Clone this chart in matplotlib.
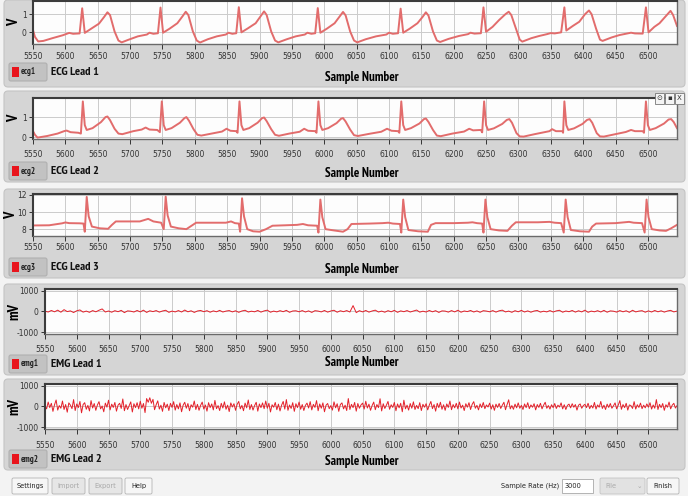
import os
import matplotlib
matplotlib.use("Agg")
import matplotlib.pyplot as plt
from matplotlib import font_manager
from matplotlib.font_manager import FontProperties
from matplotlib.patches import FancyBboxPatch, Rectangle

# ---- values (sample number, amplitude) ----
ecg1_x = [5550, 5553, 5558, 5566, 5580, 5596, 5606, 5612, 5622,
          5626, 5630, 5640, 5652, 5660, 5665, 5669, 5676, 5682, 5687, 5698, 5712, 5726, 5730, 5736, 5743,
          5747, 5751, 5761, 5773, 5781, 5786, 5790, 5797, 5803, 5808, 5820, 5834, 5848, 5852, 5858, 5864,
          5868, 5872, 5882, 5894, 5902, 5907, 5911, 5918, 5924, 5929, 5942, 5956, 5970, 5974, 5980, 5986,
          5990, 5994, 6004, 6016, 6024, 6029, 6033, 6040, 6046, 6051, 6064, 6080, 6096, 6100, 6106, 6114,
          6118, 6122, 6132, 6144, 6152, 6157, 6161, 6168, 6174, 6179, 6192, 6208, 6222, 6226, 6232, 6242,
          6246, 6250, 6260, 6270, 6280, 6285, 6289, 6296, 6302, 6306, 6320, 6332, 6344, 6350, 6356, 6366,
          6371, 6374, 6384, 6394, 6403, 6409, 6413, 6420, 6426, 6430, 6444, 6456, 6468, 6474, 6480, 6492,
          6497, 6501, 6510, 6518, 6528, 6535, 6539, 6545]
ecg1_y = [0.12, -0.25, -0.5, -0.47, -0.32, -0.16, -0.03, -0.08, -0.06,
          1.32, -0.03, 0.2, 0.48, 0.85, 1.1, 0.95, 0.05, -0.45, -0.55, -0.4, -0.22, -0.12, -0.02, -0.08, -0.05,
          1.36, -0.02, 0.2, 0.5, 0.88, 1.13, 0.95, 0.05, -0.45, -0.56, -0.38, -0.22, -0.12, -0.02, -0.08, -0.05,
          1.38, 0.0, 0.22, 0.5, 0.9, 1.15, 0.95, 0.05, -0.45, -0.55, -0.38, -0.22, -0.12, -0.02, -0.08, -0.05,
          1.33, -0.02, 0.2, 0.5, 0.88, 1.12, 0.93, 0.05, -0.45, -0.55, -0.38, -0.22, -0.12, -0.02, -0.08, -0.05,
          1.3, -0.02, 0.2, 0.5, 0.85, 1.1, 0.92, 0.05, -0.45, -0.53, -0.36, -0.2, -0.1, -0.02, -0.07, -0.05,
          1.37, 0.03, 0.3, 0.67, 1.0, 1.13, 0.95, 0.22, -0.4, -0.51, -0.32, -0.2, -0.1, -0.04, -0.06, 0.0,
          1.37, 0.1, 0.35, 0.58, 1.0, 1.2, 1.0, 0.2, -0.4, -0.47, -0.28, -0.15, -0.06, -0.02, -0.06, -0.07,
          1.37, 0.0, 0.3, 0.5, 0.9, 1.18, 0.95, 0.35]

ecg2_x = [5550, 5553, 5557, 5572, 5588, 5598, 5602, 5608, 5620, 5624,
          5627, 5630, 5633, 5642, 5655, 5662, 5665, 5669, 5676, 5682, 5688, 5705, 5718, 5724, 5730, 5742, 5746,
          5749, 5752, 5755, 5764, 5777, 5784, 5787, 5791, 5798, 5804, 5810, 5826, 5842, 5849, 5855, 5864, 5866,
          5869, 5872, 5875, 5884, 5897, 5904, 5907, 5911, 5918, 5924, 5930, 5946, 5962, 5969, 5975, 5986, 5988,
          5991, 5994, 5997, 6006, 6019, 6026, 6029, 6033, 6040, 6046, 6052, 6070, 6088, 6097, 6104, 6114, 6116,
          6119, 6122, 6125, 6134, 6147, 6154, 6157, 6161, 6168, 6174, 6180, 6198, 6216, 6224, 6230, 6242, 6244,
          6247, 6250, 6253, 6262, 6275, 6282, 6286, 6290, 6297, 6302, 6308, 6325, 6340, 6348, 6352, 6358, 6368, 6369,
          6371, 6374, 6377, 6386, 6399, 6406, 6410, 6414, 6421, 6426, 6432, 6450, 6466, 6474, 6480, 6492, 6494,
          6497, 6500, 6503, 6512, 6525, 6532, 6536, 6540, 6545]
ecg2_y = [0.3, 0.12, -0.02, 0.06, 0.18, 0.3, 0.33, 0.25, 0.22, 0.18,
          1.78, 0.6, 0.36, 0.45, 0.75, 1.0, 1.03, 0.85, 0.42, 0.18, 0.15, 0.3, 0.38, 0.48, 0.38, 0.36, 0.25,
          1.78, 0.6, 0.36, 0.45, 0.72, 0.95, 1.0, 0.82, 0.4, 0.12, 0.08, 0.18, 0.28, 0.42, 0.32, 0.3, 0.22,
          1.78, 0.6, 0.36, 0.45, 0.72, 0.95, 0.98, 0.8, 0.4, 0.12, 0.07, 0.18, 0.27, 0.42, 0.32, 0.3, 0.22,
          1.78, 0.6, 0.36, 0.45, 0.7, 0.92, 0.95, 0.78, 0.38, 0.1, 0.06, 0.17, 0.27, 0.42, 0.32, 0.3, 0.22,
          1.78, 0.6, 0.36, 0.45, 0.68, 0.9, 0.93, 0.76, 0.36, 0.08, 0.05, 0.18, 0.28, 0.42, 0.34, 0.36, 0.24,
          1.78, 0.6, 0.36, 0.44, 0.66, 0.86, 0.9, 0.72, 0.2, 0.04, 0.03, 0.15, 0.25, 0.3, 0.4, 0.3, 0.3, 0.22,
          1.78, 0.6, 0.36, 0.44, 0.66, 0.86, 0.9, 0.72, 0.2, 0.04, 0.03, 0.15, 0.26, 0.36, 0.3, 0.3, 0.22,
          1.78, 0.6, 0.36, 0.45, 0.68, 0.88, 0.9, 0.75, 0.45]

ecg3_x = [5550, 5575, 5595, 5600, 5606, 5622, 5628, 5630,
          5633, 5636, 5641, 5653, 5666, 5672, 5678, 5700, 5715, 5728, 5736, 5748, 5752,
          5755, 5758, 5763, 5775, 5787, 5795, 5802, 5830, 5848, 5856, 5862, 5868, 5870,
          5873, 5876, 5881, 5890, 5900, 5910, 5920, 5940, 5958, 5967, 5975, 5989, 5991,
          5994, 5997, 6002, 6015, 6029, 6036, 6042, 6070, 6090, 6099, 6106, 6117, 6119,
          6122, 6125, 6130, 6145, 6160, 6165, 6172, 6200, 6222, 6229, 6236, 6244, 6246,
          6249, 6252, 6257, 6270, 6283, 6290, 6296, 6330, 6348, 6356, 6366, 6370,
          6373, 6376, 6381, 6395, 6409, 6414, 6420, 6450, 6471, 6478, 6491, 6495,
          6498, 6501, 6506, 6518, 6528, 6536, 6545]
ecg3_y = [8.43, 8.45, 8.68, 8.78, 8.7, 8.68, 8.65, 7.7,
          11.76, 9.5, 8.3, 8.1, 8.04, 8.5, 8.9, 8.9, 8.9, 9.2, 8.9, 8.75, 8.0,
          11.8, 9.6, 8.3, 8.1, 8.0, 8.4, 8.75, 8.75, 8.75, 8.9, 8.7, 8.65, 7.7,
          11.6, 9.5, 8.0, 7.75, 7.7, 8.0, 8.4, 8.45, 8.5, 8.6, 8.45, 8.4, 7.6,
          11.45, 9.4, 8.0, 7.85, 7.7, 8.0, 8.6, 8.65, 8.7, 8.75, 8.65, 8.6, 7.6,
          11.45, 9.4, 7.9, 7.75, 7.7, 8.5, 8.7, 8.7, 8.75, 8.8, 8.7, 8.65, 7.6,
          11.45, 9.4, 8.0, 7.85, 7.8, 8.4, 8.8, 8.8, 8.85, 8.75, 8.7, 7.6,
          11.45, 9.4, 7.9, 7.75, 7.7, 8.3, 8.65, 8.7, 8.85, 8.75, 8.7, 7.6,
          11.45, 9.4, 8.0, 7.85, 7.8, 8.1, 8.5]

# EMG lead 1: one reading every 5 samples
emg1_x = list(range(5550, 6550, 5))
emg1_y = [10, -30, 45, -20, 60, -40, 85, -10, 25, -55, 30, 70, -35, 15, -45, 40, -20, 55, 120, -30,
          20, -40, 35, -15, 50, -60, 25, 10, -30, 45, -25, 60, -50, 30, -10, 40, -35, 20, 55, -45,
          15, -25, 40, -30, 65, -20, 30, -50, 20, 45, -15, 35, -40, 25, -20, 50, -30, 15, 40, -25,
          30, -45, 20, 55, -30, 10, -20, 45, -35, 25, 60, -40, 15, -25, 35, -15, 50, -45, 20, 30,
          -20, 40, -30, 25, -50, 35, 15, -25, 45, -35, 20, 55, -40, 30, -15, 40, -30, 280, -60, 35,
          -25, 45, -35, 20, 60, -30, 15, -40, 35, -20, 50, -45, 25, -15, 40, -30, 20, 65, -35, 10,
          -30, 45, -20, 35, -50, 25, 15, -35, 40, -25, 55, -40, 20, -10, 45, -30, 25, -45, 35, 15,
          -20, 40, -35, 30, 60, -25, 15, -45, 35, -20, 50, -30, 25, -40, 20, 45, -35, 10, -25, 40,
          -30, 25, 55, -40, 20, -15, 45, -35, 30, -25, 60, -45, 15, -20, 35, -30, 50, -40, 25, 10,
          -35, 40, -20, 30, -45, 55, -25, 15, 35, -40, 25, -30, 45, -20, 30, -35, 20, 50, -25, 15]

# EMG lead 2: one reading every 2.5 samples
emg2_x = [5550 + 2.5 * i for i in range(400)]
emg2_y = [30, -120, 210, -60, 150, -240, 80, 310, -180, 40, -90, 260, -150, 90, -280, 170, 60, -110, 330, -200,
          120, -60, 240, -310, 90, 180, -140, 50, -220, 280, -80, 140, -190, 70, 230, -120, 20, -260, 160, -40,
          300, -170, 110, -50, 190, -230, 60, 150, -100, 360, -210, 90, -150, 40, 220, -270, 130, -60, 180, -120,
          250, -90, 140, -300, 380, 200, 420, 150, 340, -160, 80, 270, -130, 60, -240, 190, -70, 110, -200, 150,
          -50, 230, -180, 90, -120, 170, -260, 60, 200, -90, 140, -210, 80, -40, 260, -150, 100, -190, 50, 210,
          -130, 70, -230, 180, -60, 120, -170, 290, -110, 40, -200, 150, -80, 220, -140, 60, -250, 170, -30, 130,
          -190, 100, 240, -120, 50, -210, 160, -70, 310, -150, 90, -180, 40, 200, -230, 120, -60, 170, -110, 260,
          -90, 150, -270, 80, -40, 190, -160, 110, -220, 60, 240, -130, 330, -190, 70, -100, 180, -240, 130, -60,
          210, -140, 90, -200, 50, 160, -80, 230, -170, 100, -50, 280, -210, 120, -90, 170, -260, 60, 140, -110,
          40, -180, 220, -70, 130, -240, 90, 170, -120, 60, -200, 380, -150, 100, -60, 190, -230, 140, -90, 70,
          160, -130, 250, -80, 110, -190, 40, 210, -160, 90, -60, 370, -220, 130, -100, 60, 240, -140, 80, -50,
          190, -210, 120, -70, 150, -260, 300, -120, 60, -180, 140, -90, 220, -150, 50, -110, 180, -200, 100, -40,
          130, -170, 60, 240, -110, 90, -230, 150, -60, 200, -140, 80, -190, 120, -50, 260, -160, 90, -70, 150,
          -120, 210, -80, 60, -200, 130, -40, 180, -150, 100, 230, -90, 50, -170, 120, -60, 190, -110, 70, -30,
          160, -130, 80, -190, 110, -50, 140, -100, 60, 200, -160, 90, 320, -120, 40, -140, 110, -70, 170, -90,
          50, -150, 120, -60, 180, -110, 70, -40, 130, -170, 90, -50, 150, -120, 60, 200, -90, 40, -130, 80,
          -60, 140, -100, 60, -30, 170, -120, 80, -150, 50, 110, -70, 130, -40, 90, -180, 60, 120, -90, 40,
          100, -60, 150, -110, 50, -80, 190, -130, 70, -40, 240, -100, 60, -150, 110, -50, 140, -90, 30, 170,
          -120, 60, 280, -140, 90, -60, 150, -180, 70, 40, -100, 230, -130, 80, -50, 160, -110, 60, -70, 120,
          -40, 180, -130, 70, -90, 330, -150, 100, -60, 140, -190, 80, -40, 210, -120, 60, 150, -80, 40, -60]

x_ticks = list(range(5550, 6501, 50))

# ---- fonts: the screenshot uses a narrow face everywhere ----
W, H = 688, 496
fonts = font_manager.fontManager.ttflist
names = {f.name for f in fonts}
NARROW = "Liberation Sans Narrow" if "Liberation Sans Narrow" in names else "DejaVu Sans"
plt.rcParams["font.family"] = [NARROW, "DejaVu Sans"]

bold_file = None
for f in fonts:
    base = os.path.basename(f.fname).lower()
    if "narrow" in base and "bold" in base and "italic" not in base:
        bold_file = f.fname
        break


def bold(size):
    if bold_file:
        return FontProperties(fname=bold_file, size=size)
    return FontProperties(family=[NARROW, "DejaVu Sans"], weight="bold", size=size)


fig = plt.figure(figsize=(W / 100, H / 100), dpi=100, facecolor="#f3f3f3")


def rbox(x0, y0, x1, y1, fc, ec="none", r=3, lw=0.8, z=0):
    p = FancyBboxPatch((x0 / W, 1 - y1 / H), (x1 - x0) / W, (y1 - y0) / H,
                       boxstyle=f"round,pad=0,rounding_size={r / W}",
                       mutation_aspect=W / H, transform=fig.transFigure,
                       fc=fc, ec=ec, lw=lw, zorder=z)
    fig.add_artist(p)


def txt(x, y, s, **kw):
    kw.setdefault("va", "center")
    fig.text(x / W, 1 - y / H, s, **kw)


panels = [
    dict(key="ecg1", title="ECG Lead 1", unit="V", x=ecg1_x, y=ecg1_y, ylim=(-0.64, 1.72),
         yt=[0, 1], ytl=["0", "1"], box=(0, 87), plot=(1, 44), left=33, pad=2.4, leg=72, xl=77, ux=14),
    dict(key="ecg2", title="ECG Lead 2", unit="V", x=ecg2_x, y=ecg2_y, ylim=(-0.09, 1.95),
         yt=[0, 1], ytl=["0", "1"], box=(91, 182), plot=(98, 139), left=33, pad=4.6, leg=171, xl=173, ux=14),
    dict(key="ecg3", title="ECG Lead 3", unit="V", x=ecg3_x, y=ecg3_y, ylim=(7.2, 12.1),
         yt=[8, 10, 12], ytl=["8", "10", "12"], box=(189, 278), plot=(194, 236), left=33, pad=1.6, leg=267, xl=269, ux=11),
    dict(key="emg1", title="EMG Lead 1", unit="mV", x=emg1_x, y=emg1_y, ylim=(-1095, 1085),
         yt=[-1000, 0, 1000], ytl=["-1000", "0", "1000"], box=(284, 375), plot=(289, 334), left=45, pad=4.2, leg=364, xl=363, ux=14),
    dict(key="emg2", title="EMG Lead 2", unit="mV", x=emg2_x, y=emg2_y, ylim=(-1095, 1085),
         yt=[-1000, 0, 1000], ytl=["-1000", "0", "1000"], box=(379, 470), plot=(384, 429), left=45, pad=5.0, leg=459, xl=461, ux=14),
]

RIGHT = 677
for p in panels:
    top, bot = p["plot"]
    left = p["left"]
    rbox(4, p["box"][0], 685, p["box"][1], fc="#d5d5d5", ec="#c4c4c4", r=4, z=-2)

    ax = fig.add_axes([left / W, 1 - bot / H, (RIGHT - left) / W, (bot - top) / H])
    ax.set_facecolor("#fdfdfd")
    emg = p["key"].startswith("emg")
    ax.plot(p["x"], p["y"], color="#e4202a" if emg else "#e26c6c",
            lw=0.7 if emg else 1.4, solid_joinstyle="round")
    ax.set_xlim(5550, 6545)
    ax.set_ylim(*p["ylim"])
    ax.set_xticks(x_ticks)
    ax.set_yticks(p["yt"])
    ax.set_yticklabels(p["ytl"])
    ax.grid(True, color="#cbcbcb", lw=0.7)
    ax.set_axisbelow(True)
    for s in ("top", "left"):
        ax.spines[s].set_color("#3c3c3c")
        ax.spines[s].set_linewidth(1.5)
    for s in ("right", "bottom"):
        ax.spines[s].set_color("#6a6a6a")
        ax.spines[s].set_linewidth(1.0)
    ax.tick_params(axis="x", length=3.5, width=0.7, color="#333333", labelcolor="#333333",
                   labelsize=5.5, pad=p["pad"])
    ax.tick_params(axis="y", length=3, width=0.7, color="#333333", labelcolor="#333333",
                   labelsize=5.5, pad=1.5)

    ax.set_ylabel(p["unit"], fontproperties=bold(10.5), rotation=90, va="center", ha="center")
    ax.yaxis.set_label_coords((p["ux"] - left) / (RIGHT - left), 0.5)
    ax.set_xlabel("Sample Number", fontproperties=bold(9.4), va="center", ha="center")
    ax.xaxis.set_label_coords((362 - left) / (RIGHT - left), (bot - p["xl"]) / (bot - top))

    # plot legend chip + title
    ly = p["leg"]
    rbox(9, ly - 9, 47, ly + 9, fc="#c2c2c2", ec="#b0b0b0", r=2, z=-1)
    fig.add_artist(Rectangle((12 / W, 1 - (ly + 5) / H), 7 / W, 10 / H,
                             transform=fig.transFigure, fc="#e8141c", ec="none"))
    txt(21, ly, p["key"], fontproperties=bold(6.4), color="#222222")
    txt(51, ly, p["title"], fontproperties=bold(8.8), color="#111111")

# small window buttons on the second panel
for i, g in enumerate(["\u2299", "\u25aa", "X"]):
    x0 = 655 + i * 10
    fig.add_artist(Rectangle((x0 / W, 1 - 104 / H), 9 / W, 11 / H, transform=fig.transFigure,
                             fc="#f4f4f4", ec="#777777", lw=0.6))
    txt(x0 + 4.5, 98.5, g, fontsize=5, ha="center", color="#333333", family="DejaVu Sans")

# bottom tool bar
buttons = [("Settings", 12, 48, True), ("Import", 52, 85, False), ("Export", 89, 122, False),
           ("Help", 125, 152, True), ("Finish", 647, 679, True)]
for label, x0, x1, active in buttons:
    rbox(x0, 478, x1, 494, fc="#f6f6f6" if active else "#e6e6e6", ec="#b4b4b4", r=1.5, lw=0.6)
    txt((x0 + x1) / 2, 486, label, fontsize=4.8, ha="center",
        color="#222222" if active else "#a8a8a8")
txt(559, 486, "Sample Rate (Hz)", fontsize=4.8, ha="right", color="#222222")
fig.add_artist(Rectangle((562 / W, 1 - 493 / H), 31 / W, 14 / H, transform=fig.transFigure,
                         fc="white", ec="#a8a8a8", lw=0.6))
txt(565, 486, "3000", fontsize=4.8, color="#222222")
rbox(600, 478, 645, 494, fc="#e2e2e2", ec="#c4c4c4", r=1.5, lw=0.6)
txt(605, 486, "File", fontsize=4.8, color="#aaaaaa")
txt(637, 486, "\u2304", fontsize=4.8, color="#aaaaaa", family="DejaVu Sans")

fig.savefig("out.png", dpi=100, facecolor=fig.get_facecolor())
